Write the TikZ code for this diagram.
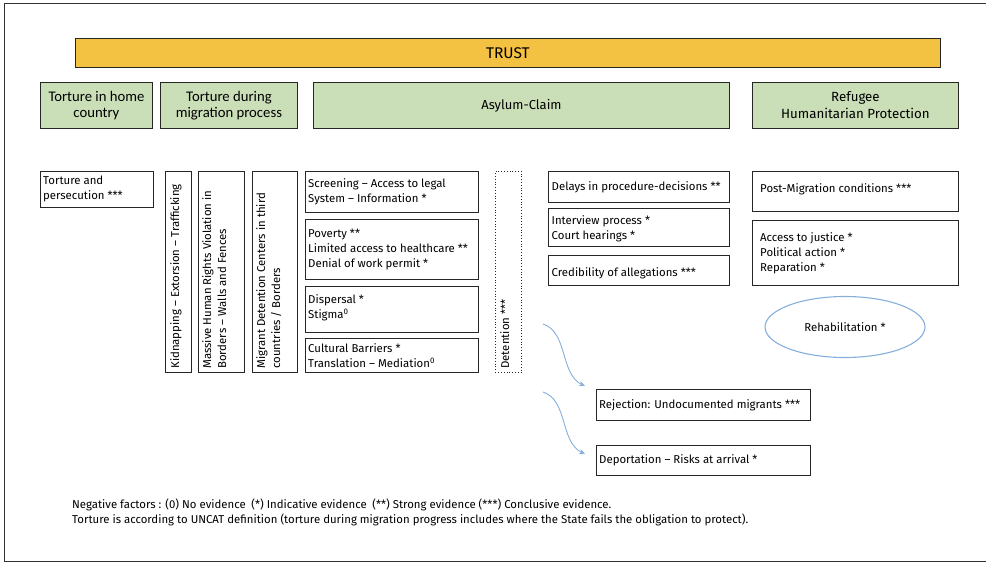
\documentclass[tikz,border=0pt]{standalone}
\usepackage{fontspec}
\setmainfont{Fira Sans}
\newfontfamily\hdfont{Carlito}
\usetikzlibrary{arrows.meta,shapes.geometric}
\definecolor{trustc}{HTML}{F4C242}
\definecolor{greenc}{HTML}{CADFB8}
\definecolor{bluec}{HTML}{86AEDD}
\tikzset{
  frame/.style={draw=black!80, line width=1pt},
  hdbox/.style={draw=black!85, line width=0.9pt, fill=greenc, inner sep=0pt, align=center, font=\hdfont\fontsize{14.7}{16}\selectfont},
  box/.style={draw=black!85, line width=0.9pt, inner sep=0pt},
  txt/.style={inner sep=0pt, align=left, font=\fontsize{11.4}{15}\selectfont},
  dotbox/.style={draw=black!85, line width=0.8pt, dotted, inner sep=0pt},
  arrowc/.style={draw=bluec, line width=0.9pt, -{Stealth[length=6pt,width=5pt]}},
}
% name, x, y, w, h, text dx, text dy, text
\newcommand\bx[8]{%
  \node[box, minimum width=#4pt, minimum height=#5pt, anchor=north west] (#1) at (#2,#3) {};
  \node[txt, anchor=north west] (#1t) at ([shift={(#6,#7)}]#1.north west) {#8};
}
\begin{document}
\begin{tikzpicture}[x=1pt,y=-1pt]
\useasboundingbox (0,0) rectangle (986,563);
% outer frame
\coordinate (f1) at (4,3);
\coordinate (f2) at (986,3);
\coordinate (f3) at (4,561);
\coordinate (f4) at (986,561);
\draw[frame] (f2) -- (f1) -- (f3) -- (f4);
% TRUST bar
\node[draw=black!85, line width=0.9pt, fill=trustc, minimum width=865pt, minimum height=29pt, anchor=north west, inner sep=0pt, font=\fontsize{15.5}{17}\selectfont] (trust) at (75,38) {TRUST};
% header boxes
\node[hdbox, minimum width=112pt, minimum height=46pt, anchor=north west] (h1) at (40,82) {Torture in home\\country};
\node[hdbox, minimum width=137pt, minimum height=46pt, anchor=north west] (h2) at (160,82) {Torture during\\migration process};
\node[hdbox, minimum width=416pt, minimum height=46pt, anchor=north west, font=\fontsize{13}{16}\selectfont] (h3) at (313,82) {Asylum-Claim};
\node[hdbox, minimum width=206pt, minimum height=46pt, anchor=north west, font=\fontsize{13.3}{17}\selectfont] (h4) at (752,82) {Refugee\\Humanitarian Protection};
% column 1
\bx{tp}{40}{171}{113}{36}{3}{5}{Torture and\\persecution ***}
% vertical boxes
\node[box, minimum width=26pt, minimum height=201pt, anchor=north west] (kid) at (165,171) {};
\node[txt, rotate=90, anchor=north west] (kidt) at ([shift={(5,-4)}]kid.south west) {Kidnapping -- Extorsion -- Trafficking};
\node[box, minimum width=46pt, minimum height=201pt, anchor=north west] (mas) at (198,171) {};
\node[txt, rotate=90, anchor=north west] (mast) at ([shift={(4,-4)}]mas.south west) {Massive Human Rights Violation in\\Borders -- Walls and Fences};
\node[box, minimum width=45pt, minimum height=201pt, anchor=north west] (mig) at (252,171) {};
\node[txt, rotate=90, anchor=north west] (migt) at ([shift={(4,-4)}]mig.south west) {Migrant Detention Centers in third\\countries / Borders};
% asylum column 1
\bx{scr}{305}{171}{173}{41}{3}{7}{Screening -- Access to legal\\System -- Information *}
\bx{pov}{305}{219}{173}{60}{3}{10}{Poverty **\\Limited access to healthcare **\\Denial of work permit *}
\bx{dis}{305}{286}{173}{46}{3}{8}{Dispersal *\\Stigma\textsuperscript{0}}
\bx{cul}{305}{338}{173}{34}{3}{5}{Cultural Barriers *\\Translation -- Mediation\textsuperscript{0}}
% detention
\node[dotbox, minimum width=26pt, minimum height=201pt, anchor=north west] (det) at (495,171) {};
\node[txt, rotate=90, anchor=north west] (dett) at ([shift={(5,-4)}]det.south west) {Detention ***};
% asylum column 2
\bx{del}{548}{171}{181}{31}{3.5}{10}{Delays in procedure-decisions **}
\bx{int}{548}{208}{181}{38}{3.5}{7}{Interview process *\\Court hearings *}
\bx{cre}{548}{255}{181}{30}{3.5}{12}{Credibility of allegations ***}
% refugee column
\bx{post}{752}{171}{206}{40}{8}{12}{Post-Migration conditions ***}
\bx{acc}{752}{220}{206}{65}{8}{12}{Access to justice *\\Political action *\\Reparation *}
\node[draw=bluec, line width=1.1pt, ellipse, minimum width=160pt, minimum height=61pt, inner sep=0pt, font=\fontsize{11.4}{13}\selectfont] (reh) at (845,327) {Rehabilitation *};
% outcomes
\bx{rej}{596}{389}{214}{31}{3}{10}{Rejection: Undocumented migrants ***}
\bx{dep}{596}{445}{214}{30}{3}{9}{Deportation -- Risks at arrival *}
% arrows
\coordinate (a1s) at (543,324);
\coordinate (a1e) at (585,386);
\coordinate (a2s) at (543,392);
\coordinate (a2e) at (585,454);
\draw[arrowc] (a1s) .. controls (568,332) and (560,374) .. (a1e);
\draw[arrowc] (a2s) .. controls (568,400) and (560,442) .. (a2e);
% footer
\node[inner sep=0pt, anchor=north west, align=left, font=\fontsize{11.4}{15}\selectfont] (foot) at (72,499) {Negative factors : (0) No evidence\enspace(*) Indicative evidence\enspace(**) Strong evidence (***) Conclusive evidence.\\Torture is according to UNCAT definition (torture during migration progress includes where the State fails the obligation to protect).};
\end{tikzpicture}
\end{document}
